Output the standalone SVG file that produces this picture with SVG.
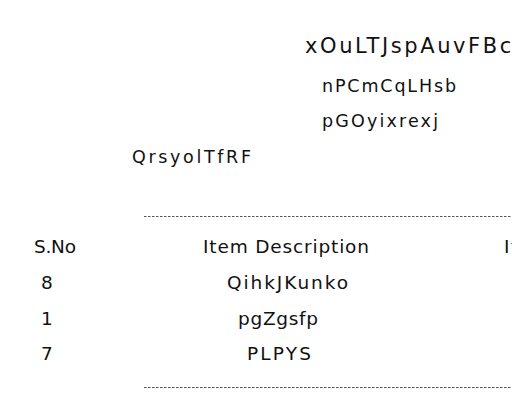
<svg xmlns="http://www.w3.org/2000/svg" width="512" height="400" viewBox="0 0 512 400">
<style>
  text { font-family: "DejaVu Sans", "Liberation Sans", sans-serif; fill: #111; }
  .title { font-size: 21px; letter-spacing: 2.6px; }
  .sub { font-size: 17.5px; }
  .cell { font-size: 18.5px; }
  .rule { stroke: #555; stroke-width: 1; stroke-dasharray: 2.5 1.5; fill: none; }
</style>
<rect width="512" height="400" fill="#ffffff"/>
<g id="header">
  <text class="title" x="305" y="53">xOuLTJspAuvFBc</text>
  <text class="sub" x="322" y="92" textLength="134" lengthAdjust="spacing">nPCmCqLHsb</text>
  <text class="sub" x="322" y="127" textLength="116" lengthAdjust="spacing">pGOyixrexj</text>
  <text class="sub" x="132" y="163" textLength="119" lengthAdjust="spacing">QrsyolTfRF</text>
</g>
<g id="rules">
  <line class="rule" x1="144" y1="216.5" x2="512" y2="216.5"/>
  <line class="rule" x1="144" y1="387.5" x2="512" y2="387.5"/>
</g>
<g id="table-head">
  <text class="cell" x="34" y="253" textLength="42" lengthAdjust="spacing">S.No</text>
  <text class="cell" x="203" y="253" textLength="166" lengthAdjust="spacing">Item Description</text>
  <text class="cell" x="504" y="253" letter-spacing="1.5">It</text>
</g>
<g id="row1">
  <text class="cell" x="41" y="289">8</text>
  <text class="cell" x="227" y="289" textLength="121" lengthAdjust="spacing">QihkJKunko</text>
</g>
<g id="row2">
  <text class="cell" x="41" y="325">1</text>
  <text class="cell" x="238" y="325" textLength="80" lengthAdjust="spacing">pgZgsfp</text>
</g>
<g id="row3">
  <text class="cell" x="41" y="360">7</text>
  <text class="cell" x="247" y="360" textLength="64" lengthAdjust="spacing">PLPYS</text>
</g>
</svg>
